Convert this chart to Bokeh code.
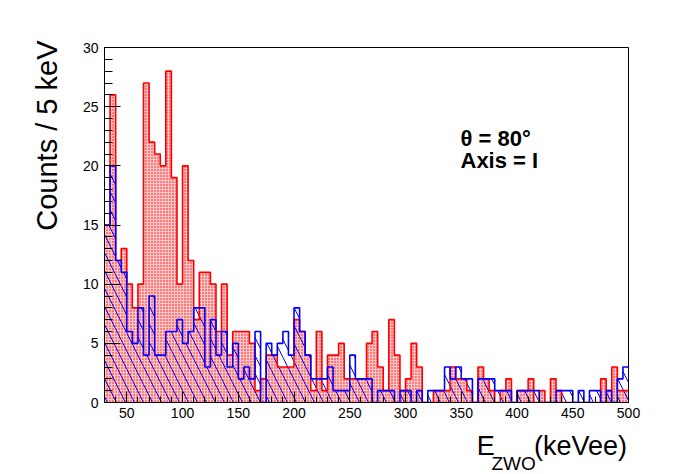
import numpy as np
from bokeh.plotting import figure
from bokeh.models import Range1d, Label, FixedTicker, LinearAxis, Title
from bokeh.embed import file_html
from bokeh.resources import INLINE

# ---------------- data ----------------
bin_width = 5
x_start = 30
x_end = 500

# red histogram (dotted fill), counts per 5 keV bin starting at 30 keV
red_counts = [15, 26, 12, 13, 10, 8, 10, 27, 22, 21,
              20, 28, 19, 10, 20, 12, 7, 11, 11, 10,
              6, 10, 4, 6, 6, 6, 5, 1, 2, 4,
              4, 3, 3, 3, 7, 6, 4, 1, 6, 1,
              4, 4, 5, 2, 2, 2, 2, 5, 6, 3,
              1, 7, 4, 1, 2, 5, 3, 0, 0, 1,
              1, 1, 3, 2, 2, 1, 0, 3, 2, 1,
              0, 1, 2, 0, 1, 1, 2, 0, 1, 0,
              2, 1, 0, 0, 0, 0, 0, 0, 0, 2,
              1, 3, 1, 1]

# blue histogram (hatched fill)
blue_counts = [15, 20, 12, 11, 6, 5, 8, 4, 9, 4,
               4, 6, 6, 7, 5, 6, 8, 8, 3, 7,
               4, 6, 3, 5, 2, 3, 2, 6, 0, 5,
               4, 5, 6, 4, 8, 6, 4, 2, 2, 2,
               3, 1, 1, 1, 4, 2, 2, 2, 0, 1,
               1, 1, 0, 1, 1, 0, 1, 0, 1, 1,
               1, 3, 2, 3, 2, 2, 0, 2, 2, 2,
               1, 1, 1, 0, 1, 1, 1, 1, 0, 0,
               0, 1, 1, 1, 0, 1, 0, 1, 1, 0,
               1, 0, 2, 3]

x_ticks = [50, 100, 150, 200, 250, 300, 350, 400, 450, 500]
y_ticks = [0, 5, 10, 15, 20, 25, 30]
y_max = 30

y_title = "Counts / 5 keV"
x_title_main = "E"
x_title_sub = "ZWO"
x_title_unit = "(keVee)"
info_lines = ["θ = 80°", "Axis = I"]

# ---------------- geometry helpers ----------------
FRAME_W, FRAME_H = 524, 355
kev_per_px = (x_end - x_start) / FRAME_W
cnt_per_px = y_max / FRAME_H

def dx(px):  # pixel offset from frame left -> data x
    return x_start + px * kev_per_px

def dy(px):  # pixel offset above frame bottom -> data y
    return px * cnt_per_px

edges = x_start + bin_width * np.arange(len(red_counts) + 1)
left = edges[:-1]
right = edges[1:]
red = np.array(red_counts, dtype=float)
blue = np.array(blue_counts, dtype=float)

FONT = "Liberation Sans"

p = figure(output_backend="svg", toolbar_location=None,
           frame_width=FRAME_W, frame_height=FRAME_H,
           min_border_left=104, min_border_right=64,
           min_border_top=47, min_border_bottom=66,
           x_range=Range1d(x_start, x_end), y_range=Range1d(0, y_max))
p.background_fill_color = "white"
p.border_fill_color = "white"
p.outline_line_color = "black"
p.outline_line_width = 1
p.grid.visible = False

# fills
p.quad(left=left, right=right, top=red, bottom=0,
       fill_color="red", fill_alpha=0.22, line_color=None,
       hatch_pattern="dot", hatch_color="red", hatch_scale=3, hatch_weight=2.8)
p.quad(left=left, right=right, top=blue, bottom=0,
       fill_alpha=0, line_color=None,
       hatch_pattern="\\", hatch_color="blue", hatch_scale=18, hatch_weight=1)

# outlines
p.step(x=edges, y=np.append(red, red[-1]), mode="after", line_color="red", line_width=1.6)
p.step(x=edges, y=np.append(blue, blue[-1]), mode="after", line_color="blue", line_width=1.6)

# axes
for ax in (p.xaxis, p.yaxis):
    ax.axis_line_color = "black"
    ax.major_tick_line_color = "black"
    ax.minor_tick_line_color = "black"
    ax.major_label_text_font = FONT
    ax.major_label_text_font_size = "14px"
    ax.major_label_text_color = "black"
    ax.major_tick_out = 0
    ax.minor_tick_out = 0

p.xaxis.ticker = FixedTicker(ticks=x_ticks, minor_ticks=list(range(x_start, x_end + 1, 10)))
p.yaxis.ticker = FixedTicker(ticks=y_ticks, minor_ticks=list(range(0, y_max + 1, 1)))
p.xaxis.major_tick_in = 11
p.xaxis.minor_tick_in = 6
p.yaxis.major_tick_in = 16
p.yaxis.minor_tick_in = 8
p.xaxis.major_label_standoff = 5
p.yaxis.major_label_standoff = 6

# y title: aligned with the top end of the axis
p.add_layout(Title(text=y_title, align="right", text_font=FONT, text_font_size="29px",
                   text_font_style="normal", text_color="black", standoff=34, offset=-7),
             "left")

# x title E_ZWO(keVee) built from two label-only axes
pos_E, pos_unit, pos_sub = 372, 457, 397
axis_a = LinearAxis(ticker=FixedTicker(ticks=[pos_E, pos_unit], minor_ticks=[]),
                    major_label_overrides={pos_E: x_title_main, pos_unit: x_title_unit},
                    axis_line_color=None, major_tick_line_color=None,
                    minor_tick_line_color=None, major_label_standoff=4,
                    major_label_text_font=FONT, major_label_text_font_size="27px",
                    major_label_text_color="black")
p.add_layout(axis_a, "below")
axis_b = LinearAxis(ticker=FixedTicker(ticks=[pos_sub], minor_ticks=[]),
                    major_label_overrides={pos_sub: x_title_sub},
                    axis_line_color=None, major_tick_line_color=None,
                    minor_tick_line_color=None, major_label_standoff=-17,
                    major_label_text_font=FONT, major_label_text_font_size="19px",
                    major_label_text_color="black")
p.add_layout(axis_b, "below")

# info text
p.add_layout(Label(x=dx(356), y=dy(402 - 138), text=info_lines[0], text_align="left",
                   text_baseline="alphabetic", text_font=FONT, text_font_size="22px",
                   text_font_style="bold", text_color="black"))
p.add_layout(Label(x=dx(356), y=dy(402 - 160), text=info_lines[1], text_align="left",
                   text_baseline="alphabetic", text_font=FONT, text_font_size="22px",
                   text_font_style="bold", text_color="black"))

open("out.html", "w").write(file_html(p, INLINE))
